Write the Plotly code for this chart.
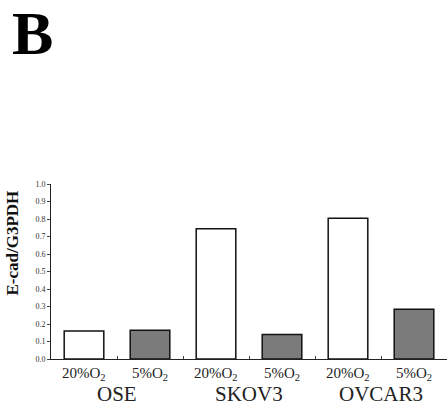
import plotly.graph_objects as go

conditions = ["20%O<sub>2</sub>", "5%O<sub>2</sub>", "20%O<sub>2</sub>", "5%O<sub>2</sub>", "20%O<sub>2</sub>", "5%O<sub>2</sub>"]
cell_lines = ["OSE", "SKOV3", "OVCAR3"]
values = [0.16, 0.165, 0.745, 0.14, 0.805, 0.285]
fill_colors = ["#ffffff", "#7b7b7b", "#ffffff", "#7b7b7b", "#ffffff", "#7b7b7b"]
y_ticks = [0.0, 0.1, 0.2, 0.3, 0.4, 0.5, 0.6, 0.7, 0.8, 0.9, 1.0]

SERIF = "Liberation Serif"
idx = list(range(len(values)))

fig = go.Figure()
fig.add_trace(go.Bar(
    x=idx, y=values, width=0.6,
    marker=dict(color=fill_colors, line=dict(color="#111111", width=1.5)),
    showlegend=False, hoverinfo="skip",
))

annotations = []
for i, c in enumerate(conditions):
    annotations.append(dict(x=i, y=0, xref="x", yref="y", yshift=-15, text=c,
                            showarrow=False, font=dict(family=SERIF, size=15, color="#222222")))
for g, name in enumerate(cell_lines):
    annotations.append(dict(x=2 * g + 0.5, y=0, xref="x", yref="y", yshift=-35, text=name,
                            showarrow=False, font=dict(family=SERIF, size=21, color="#222222")))
annotations.append(dict(x=-0.5, y=0.66, xref="x", yref="paper", xshift=-39, text="<b>E-cad/G3PDH</b>",
                        textangle=-90, showarrow=False,
                        font=dict(family=SERIF, size=17, color="#111111")))
annotations.append(dict(x=-0.046, y=1.865, xref="paper", yref="paper", xanchor="center", yanchor="middle",
                        text="<b>B</b>", showarrow=False,
                        font=dict(family=SERIF, size=62, color="#000000")))

fig.update_layout(
    width=447, height=405,
    margin=dict(l=51, r=0, t=184, b=46, autoexpand=False),
    paper_bgcolor="white", plot_bgcolor="white",
    xaxis=dict(range=[-0.5, 5.5], tickvals=[0.5, 1.5, 2.5, 3.5, 4.5], ticktext=[""] * 5,
               ticks="inside", ticklen=3, tickcolor="#444444", showline=True, linecolor="#222222",
               linewidth=1, showgrid=False, zeroline=False, fixedrange=True, automargin=False),
    yaxis=dict(range=[0, 1.0], tickvals=y_ticks, tickformat=".1f", ticks="outside", ticklen=3,
               tickcolor="#444444", showline=True, linecolor="#222222", linewidth=1,
               showgrid=False, zeroline=False, automargin=False,
               tickfont=dict(family=SERIF, size=8, color="#333333"), fixedrange=True),
    annotations=annotations,
)

fig.write_html("out.html", config={"displayModeBar": False},
               post_script="document.body.style.margin='0';document.body.style.padding='0';")
